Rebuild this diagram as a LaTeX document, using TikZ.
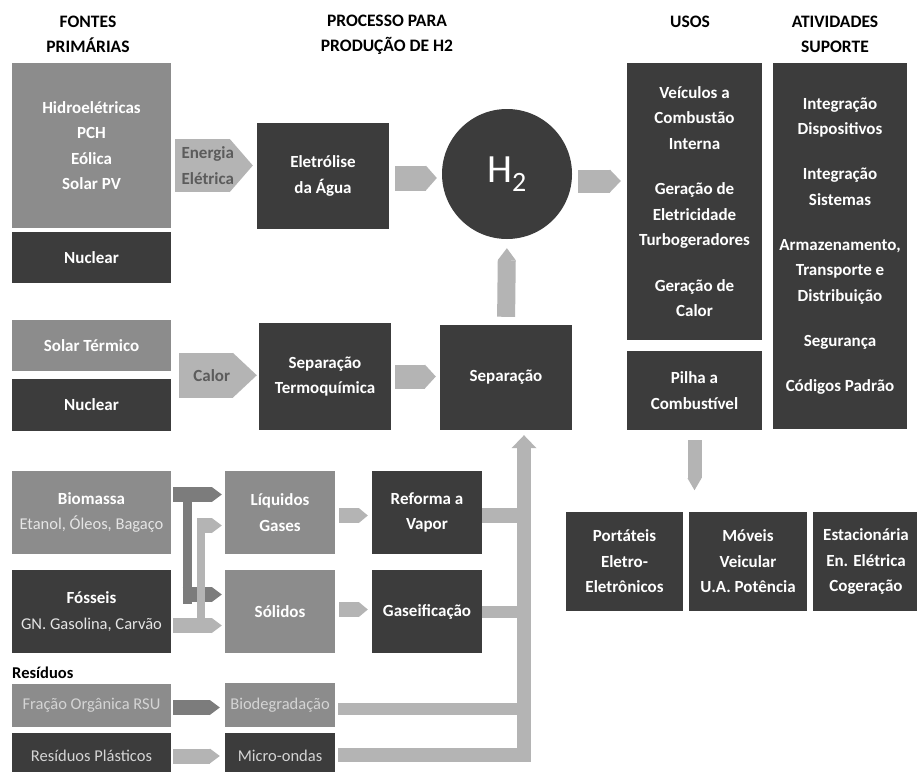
\documentclass[tikz,border=0pt]{standalone}
\usepackage{fontspec}
\setmainfont{Carlito}
\usetikzlibrary{arrows.meta,calc}

\definecolor{boxlight}{HTML}{8C8C8C}
\definecolor{boxdark}{HTML}{3C3C3C}
\definecolor{flowlight}{HTML}{B4B4B4}
\definecolor{flowmid}{HTML}{7C7C7C}
\definecolor{labelgray}{HTML}{5C5C5C}
\definecolor{softtext}{HTML}{D4D4D4}

\begin{document}
\begin{tikzpicture}[x=1pt,y=-1pt,
  every node/.style={inner sep=0pt, align=center},
  bodyfont/.style={font=\bfseries\fontsize{17}{25.5}\selectfont},
  thinfont/.style={font=\fontsize{16.5}{25.5}\selectfont},
  heading/.style={font=\bfseries\fontsize{17.5}{25}\selectfont, text=black},
  lbox/.style={rectangle, fill=boxlight, text=white, bodyfont},
  dbox/.style={rectangle, fill=boxdark, text=white, bodyfont},
  flow/.style={draw=flowlight, line cap=butt, line width=#1},
  flowm/.style={draw=flowmid, line cap=butt, line width=#1},
]
\clip (0,0) rectangle (917,771);
\fill[white] (0,0) rectangle (917,771);

% column headings
\node[heading] (hFontes) at (88,34.5) {FONTES\\PRIMÁRIAS};
\node[heading] (hProc) at (387,34.5) {PROCESSO PARA\\PRODUÇÃO DE H2};
\node[heading] (hUsos) at (690,22) {USOS};
\node[heading] (hAtiv) at (835,34.5) {ATIVIDADES\\SUPORTE};

% primary sources
\node[lbox, minimum width=159, minimum height=165] (hydro) at (91.5,145.5)
  {Hidroelétricas\\PCH\\Eólica\\Solar PV};
\node[dbox, minimum width=159, minimum height=51] (nucA) at (91.5,257.5) {Nuclear};
\node[lbox, minimum width=159, minimum height=51] (solt) at (91.5,345.5) {Solar Térmico};
\node[dbox, minimum width=159, minimum height=52] (nucB) at (91.5,405) {Nuclear};
\node[lbox, minimum width=159, minimum height=83] (bio) at (91.5,512.5)
  {Biomassa\\{\mdseries\fontsize{16.5}{25.5}\selectfont\color{softtext!60!white}Etanol, Óleos, Bagaço}};
\node[dbox, minimum width=159, minimum height=83] (fos) at (91.5,611.5)
  {Fósseis\\{\mdseries\fontsize{16.5}{25.5}\selectfont\color{softtext!60!white}GN. Gasolina, Carvão}};
\node[heading, font=\bfseries\fontsize{16.5}{20}\selectfont, anchor=west] (hRes) at (12,673) {Resíduos};
\node[lbox, thinfont, text=softtext, minimum width=159, minimum height=43] (rsu) at (91.5,705.5)
  {Fração Orgânica RSU};
\node[dbox, thinfont, text=softtext, minimum width=159, minimum height=46] (plast) at (91.5,756)
  {Resíduos Plásticos};

% production processes
\node[dbox, minimum width=132, minimum height=106] (eletr) at (323,176) {Eletrólise\\da Água};
\node[dbox, minimum width=132, minimum height=107] (sepT) at (325,376.5) {Separação\\Termoquímica};
\node[dbox, minimum width=132, minimum height=105] (sep) at (506,377.5) {Separação};
\node[circle, fill=boxdark, text=white, minimum size=130,
      font=\fontsize{40}{40}\selectfont] (h2) at (507,174) {H\textsubscript{2}};
\node[lbox, minimum width=110, minimum height=83] (liq) at (280,512.5) {Líquidos\\Gases};
\node[lbox, minimum width=110, minimum height=83] (sol) at (280,611.5) {Sólidos};
\node[dbox, minimum width=110, minimum height=83] (ref) at (427,512.5) {Reforma a\\Vapor};
\node[dbox, minimum width=110, minimum height=83] (gas) at (427,611.5) {Gaseificação};
\node[lbox, thinfont, text=softtext, minimum width=110, minimum height=44] (biod) at (280,705) {Biodegradação};
\node[dbox, thinfont, text=softtext, minimum width=110, minimum height=46] (micro) at (280,756) {Micro-ondas};

% uses and support activities
\node[dbox, minimum width=135, minimum height=277] (usos) at (694.5,201.5)
  {Veículos a\\Combustão\\Interna\\[20pt]Geração de\\Eletricidade\\Turbogeradores\\[20pt]Geração de\\Calor};
\node[dbox, minimum width=135, minimum height=79] (pilha) at (694.5,390.5) {Pilha a\\Combustível};
\node[dbox, minimum width=134, minimum height=366] (ativ) at (840,246)
  {Integração\\Dispositivos\\[19.5pt]Integração\\Sistemas\\[19.5pt]Armazenamento,\\Transporte e\\Distribuição\\[19.5pt]Segurança\\[19.5pt]Códigos Padrão};
\node[dbox, minimum width=117, minimum height=99] (port) at (624.5,561.5) {Portáteis\\Eletro-\\Eletrônicos};
\node[dbox, minimum width=118, minimum height=99] (movel) at (748,561.5) {Móveis\\Veicular\\U.A. Potência};
\node[dbox, minimum width=106, minimum height=99] (estac) at (866,561.5) {Estacionária\\En. Elétrica\\Cogeração};

% helper points
\coordinate (eRow) at ([yshift=10.5pt]eletr.west);
\coordinate (cRow) at ($(solt.east)!0.5!(nucB.east)$);
\coordinate (busX) at ([xshift=18pt]sep.south);
\coordinate (pilhaEnd) at ([yshift=-60pt]pilha.south);

% energy carriers with labels
\draw[flow=53pt, -{Triangle[length=23pt, width=53pt, line width=0pt]}]
  ([xshift=4pt]hydro.east |- eRow) -- ([xshift=-4pt]eRow)
  node[pos=0.42, text=labelgray, bodyfont] (lblE) {Energia\\Elétrica};
\draw[flow=45pt, -{Triangle[length=24pt, width=45pt, line width=0pt]}]
  ([xshift=8pt]cRow) -- ([xshift=-2pt]sepT.west |- cRow)
  node[pos=0.42, text=labelgray, bodyfont] (lblC) {Calor};

% main flows
\draw[flow=25pt, -{Triangle[length=11pt, width=25pt, line width=0pt]}, shorten <=6pt, shorten >=5pt]
  ([yshift=-2pt]eletr.east) -- ([yshift=-2pt]eletr.east -| h2.west);
\draw[flow=23pt, -{Triangle[length=11pt, width=23pt, line width=0pt]}, shorten <=6pt, shorten >=6pt]
  ([yshift=-7pt]h2.east) -- ([yshift=-7pt]h2.east -| usos.west);
\draw[flow=18pt, -{Triangle[length=12pt, width=18pt, line width=0pt]}, shorten <=8pt, shorten >=9pt]
  (sep.north) -- (h2.south);
\draw[flow=24pt, -{Triangle[length=11pt, width=24pt, line width=0pt]}, shorten <=4pt, shorten >=4pt]
  (sepT.east) -- (sepT.east -| sep.west);
\draw[flow=14pt, -{Triangle[length=12pt, width=14pt, line width=0pt]}, shorten <=10pt, shorten >=0pt]
  (pilha.south) -- (pilhaEnd);

% biomass and fossil crossings
\draw[flowm=15pt, -{Triangle[length=10pt, width=15pt, line width=0pt]}, shorten >=3pt]
  ([xshift=2pt,yshift=18pt]bio.east) -- ([yshift=18pt]bio.east -| liq.west);
\draw[flowm=9pt] ([xshift=16pt,yshift=25.5pt]bio.east) -- ([xshift=16pt,yshift=-91pt]bio.east);
\draw[flowm=15pt, -{Triangle[length=10pt, width=15pt, line width=0pt]}, shorten >=3pt]
  ([xshift=11.5pt,yshift=17pt]fos.east) -- ([yshift=17pt]fos.east -| sol.west);
\draw[flow=8pt] ([xshift=30pt,yshift=-18pt]fos.east) -- ([xshift=30pt,yshift=94pt]fos.east);
\draw[flow=15pt, -{Triangle[length=10pt, width=15pt, line width=0pt]}, shorten >=3pt]
  ([xshift=26pt,yshift=-13pt]bio.east) -- ([yshift=-13pt]bio.east -| liq.west);
\draw[flow=15pt, -{Triangle[length=10pt, width=15pt, line width=0pt]}, shorten >=3pt]
  ([xshift=2pt,yshift=-14pt]fos.east) -- ([yshift=-14pt]fos.east -| sol.west);

% solids and liquids onward
\draw[flow=15pt, -{Triangle[length=9pt, width=15pt, line width=0pt]}, shorten <=4pt, shorten >=4pt]
  ([yshift=-3pt]liq.east) -- ([yshift=-3pt]liq.east -| ref.west);
\draw[flow=15pt, -{Triangle[length=9pt, width=15pt, line width=0pt]}, shorten <=4pt, shorten >=4pt]
  ([yshift=2pt]sol.east) -- ([yshift=2pt]sol.east -| gas.west);

% waste
\draw[flowm=15pt, -{Triangle[length=10pt, width=15pt, line width=0pt]}, shorten <=2pt, shorten >=5pt]
  ([yshift=-2pt]rsu.east) -- ([yshift=-2pt]rsu.east -| biod.west);
\draw[flow=15pt, -{Triangle[length=10pt, width=15pt, line width=0pt]}, shorten <=2pt, shorten >=5pt]
  (plast.east) -- (plast.east -| micro.west);

% collector towards the separation unit
\draw[flow=14pt, line join=miter, -{Triangle[length=13pt, width=25pt, line width=0pt]}]
  ([xshift=3pt,yshift=1pt]micro.east) -| ([yshift=-5pt]busX);
\draw[flow=15pt] ([yshift=-3pt]ref.east) -- ([yshift=-3pt]ref.east -| busX);
\draw[flow=12pt] (gas.east) -- (gas.east -| busX);
\draw[flow=12pt] ([xshift=3pt,yshift=-4pt]biod.east) -- ([yshift=-4pt]biod.east -| busX);

\end{tikzpicture}
\end{document}
